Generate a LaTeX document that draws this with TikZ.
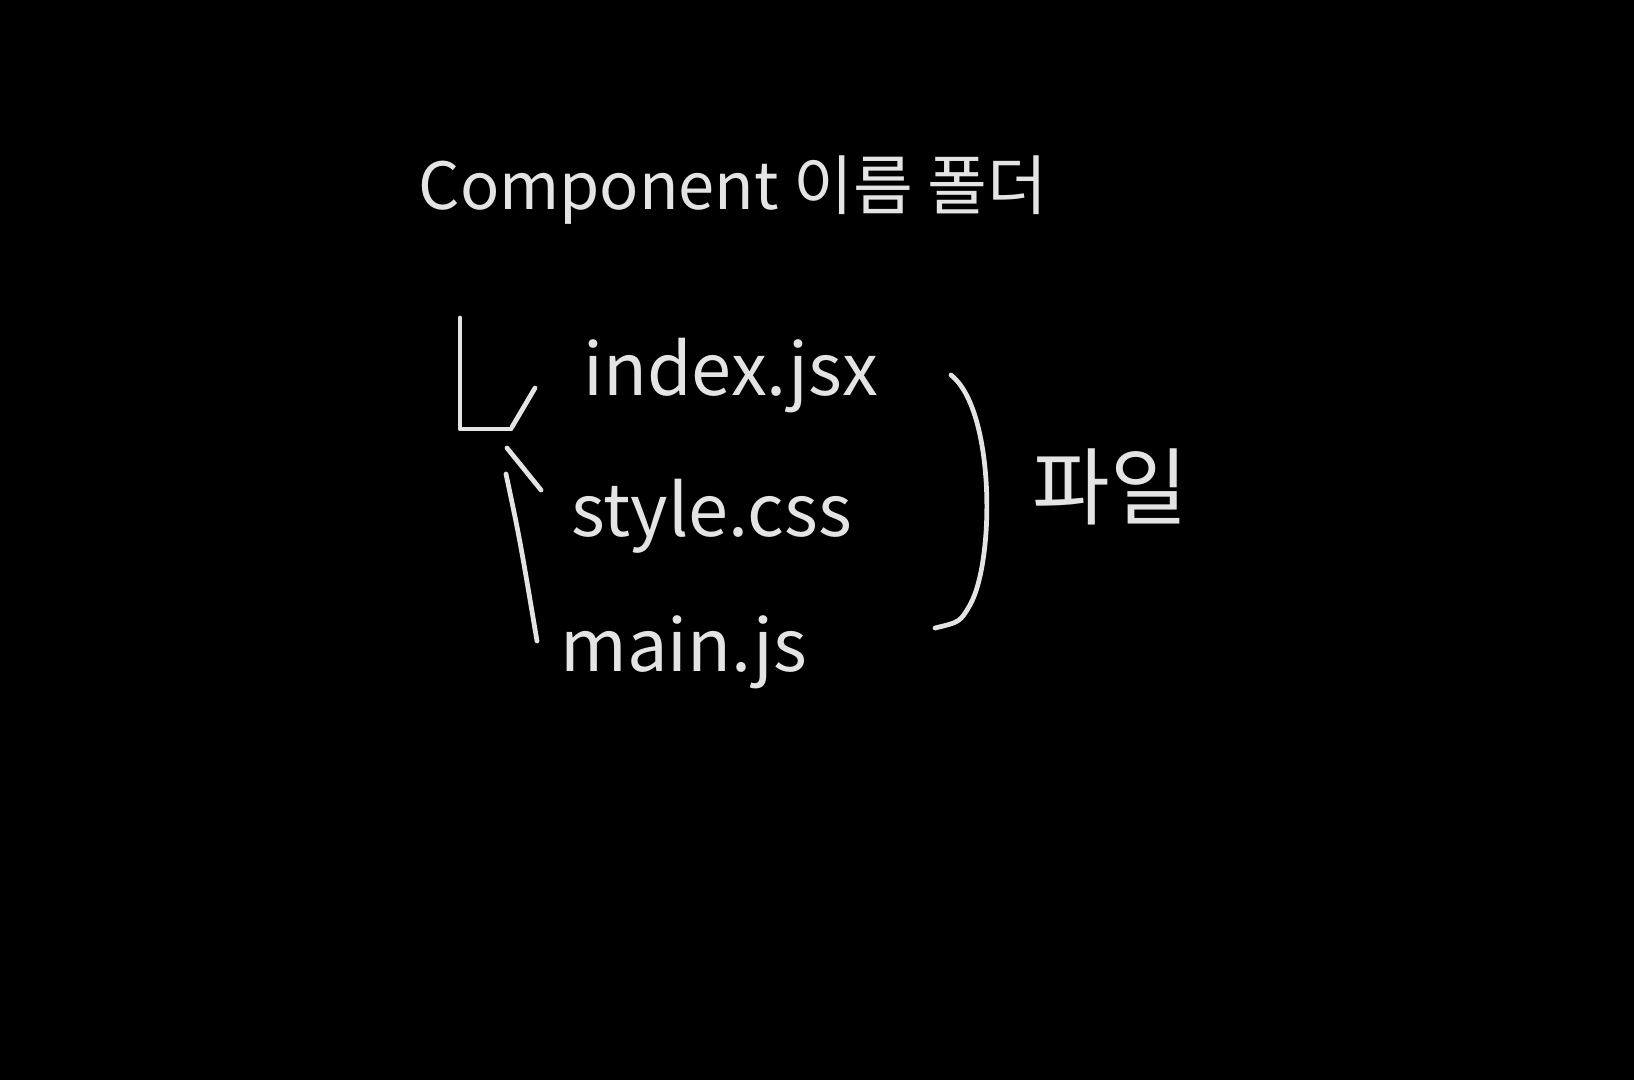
\documentclass[tikz,border=0pt]{standalone}
\usepackage{fontspec}
\setmainfont{Noto Sans CJK KR}
\usetikzlibrary{positioning}
\definecolor{BDchalk}{RGB}{228,228,228}
\tikzset{
  heading/.style={text=BDchalk,font=\fontsize{37}{44}\selectfont,inner sep=0pt},
  fname/.style={text=BDchalk,font=\fontsize{41}{50}\selectfont,inner sep=0pt,anchor=west},
  tag/.style={text=BDchalk,font=\fontsize{48}{56}\selectfont,inner sep=0pt},
  stroke/.style={draw=BDchalk,line width=2.7pt,line cap=round,line join=round}
}
\begin{document}
\begin{tikzpicture}[x=0.02cm,y=-0.02cm]
  \useasboundingbox (0,0) rectangle (1634,1080);
  \fill[black] (0,0) rectangle (1634,1080);
  \node[heading] (title) at (733,190) {Component 이름 폴더};
  \node[fname] (fIndex) at (583,376) {index.jsx};
  \node[fname] (fStyle) at (571,516) {style.css};
  \node[fname] (fMain) at (560,652) {main.js};
  \node[tag] (lblFile) at (1110,487) {파일};
  \draw[stroke] (460,318) -- (460,429) -- (511,429);
  \draw[stroke] (512,427) -- (535,388);
  \draw[stroke] (507,448) -- (541,490);
  \draw[stroke] (506,474) .. controls (520,540) .. (537,641);
  \draw[stroke] (951,375) .. controls (995,410) and (995,560) .. (970,605)
    .. controls (960,622) .. (935,628);
\end{tikzpicture}
\end{document}
